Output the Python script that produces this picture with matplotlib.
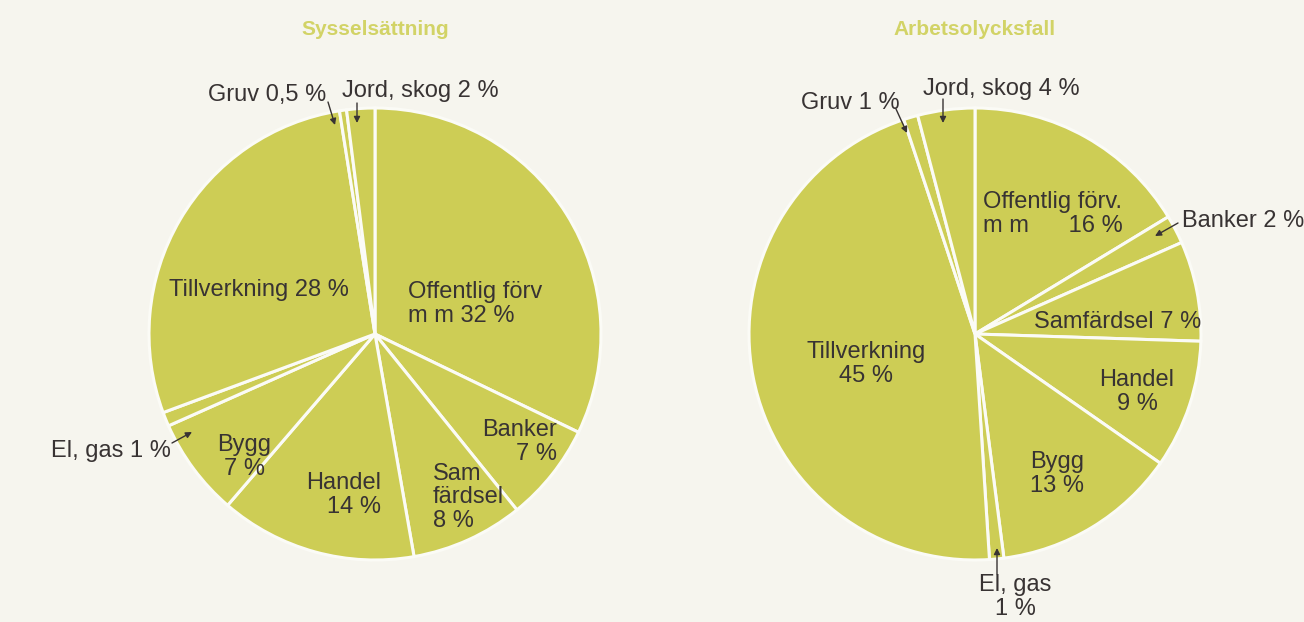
import matplotlib.pyplot as plt

# data: two pies, wedges listed clockwise from 12 o'clock
branscher_syss = ['Offentlig förv', 'Banker', 'Samfärdsel', 'Handel', 'Bygg',
                  'El, gas', 'Tillverkning', 'Gruv', 'Jord, skog']
andel_syss = [32, 7, 8, 14, 7, 1, 28, 0.5, 2]
etiketter_syss = ['Offentlig förv\nm m 32 %', 'Banker\n7 %', 'Sam\nfärdsel\n8 %',
                  'Handel\n14 %', 'Bygg\n7 %', 'El, gas 1 %', 'Tillverkning 28 %',
                  'Gruv 0,5 %', 'Jord, skog 2 %']

branscher_olyck = ['Offentlig förv.', 'Banker', 'Samfärdsel', 'Handel', 'Bygg',
                   'El, gas', 'Tillverkning', 'Gruv', 'Jord, skog']
andel_olyck = [16, 2, 7, 9, 13, 1, 45, 1, 4]
etiketter_olyck = ['Offentlig förv.\nm m      16 %', 'Banker 2 %', 'Samfärdsel 7 %',
                   'Handel\n9 %', 'Bygg\n13 %', 'El, gas\n1 %', 'Tillverkning\n45 %',
                   'Gruv 1 %', 'Jord, skog 4 %']

titlar = ['Sysselsättning', 'Arbetsolycksfall']

W, H = 1304, 622
BG = '#f6f5ee'
PIE = '#cdcd55'
TITLE_C = '#d2d366'
TXT = '#383333'

plt.rcParams['font.family'] = ['Liberation Sans', 'DejaVu Sans']

fig = plt.figure(figsize=(W / 100, H / 100), dpi=100, facecolor=BG)
ax = fig.add_axes([0, 0, 1, 1])
ax.set_facecolor(BG)


def px(x, y):
    # picture pixel -> data coords (y up)
    return x, H - y


# label placement (pixel x, baseline of last line, alignment) per wedge
pos_syss = [(408, 322, 'left'), (557, 460, 'right'), (433, 527, 'left'),
            (381, 513, 'right'), (244, 475, 'center'), (171, 457, 'right'),
            (259, 296, 'center'), (267, 101, 'center'), (420, 97, 'center')]
pos_olyck = [(983, 232, 'left'), (1182, 227, 'left'), (1118, 328, 'center'),
             (1137, 410, 'center'), (1057, 492, 'center'), (1015, 615, 'center'),
             (866, 382, 'center'), (850, 109, 'center'), (1001, 95, 'center')]

# arrows for the thin slices: (from, to) in pixels
pilar = [((328, 102), (335, 125)), ((357, 103), (357, 123)),
         ((172, 443), (192, 432)),
         ((896, 109), (907, 133)), ((943, 99), (943, 123)),
         ((1178, 223), (1155, 236)), ((997, 574), (997, 548))]

centra = [px(375, 334), px(975, 334)]
radie = 226

for c, vals in zip(centra, [andel_syss, andel_olyck]):
    ax.pie(vals, center=c, radius=radie, startangle=90, counterclock=False,
           colors=[PIE] * len(vals),
           wedgeprops=dict(edgecolor='#fbfbf6', linewidth=2.2))

for labels, pos in [(etiketter_syss, pos_syss), (etiketter_olyck, pos_olyck)]:
    for lab, (x, y, ha) in zip(labels, pos):
        ax.text(*px(x, y), lab, ha=ha, va='baseline', multialignment=ha,
                fontsize=17, color=TXT, linespacing=1.1)

for (a, b) in pilar:
    ax.annotate('', xy=px(*b), xytext=px(*a),
                arrowprops=dict(arrowstyle='-|>', color=TXT, lw=1.0,
                                mutation_scale=9, shrinkA=0, shrinkB=0))

for c, t in zip(centra, titlar):
    ax.text(c[0], H - 35, t, ha='center', va='baseline', fontsize=15,
            fontweight='bold', color=TITLE_C)

ax.set_xlim(0, W)
ax.set_ylim(0, H)
ax.set_aspect('equal')
ax.axis('off')

fig.savefig('out.png', dpi=100, facecolor=BG)
